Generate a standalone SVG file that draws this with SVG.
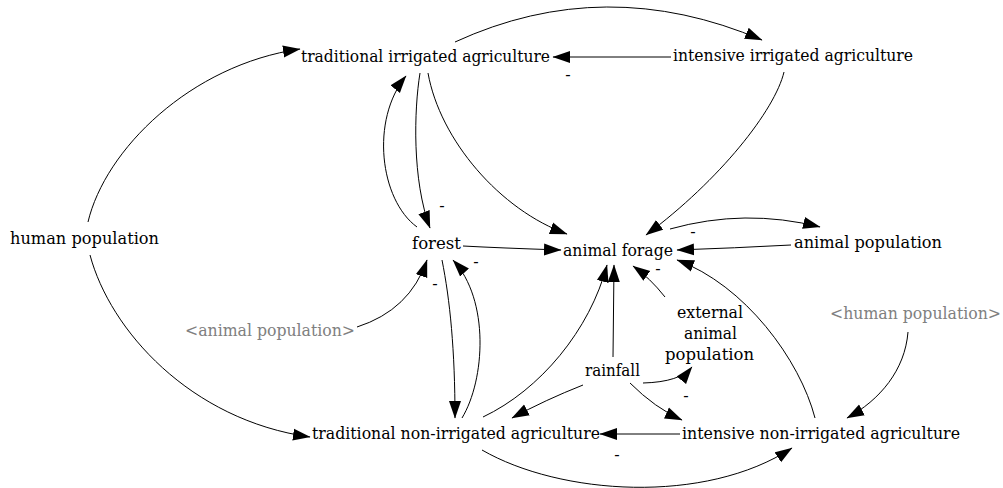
<svg xmlns="http://www.w3.org/2000/svg" width="1003" height="488" viewBox="0 0 1003 488" font-family="DejaVu Serif, serif">
<style>
text{font-size:16px;fill:#000}
.ghost{fill:#808080}
.c path{fill:none;stroke:#000;stroke-width:1;marker-end:url(#ah)}
</style>
<defs>
<marker id="ah" markerUnits="userSpaceOnUse" markerWidth="18" markerHeight="13" viewBox="0 0 18 13" refX="17" refY="6.5" orient="auto">
<path d="M0,0.5 L17.5,6.5 L0,12.5 z" fill="#000"/>
</marker>
</defs>
<rect width="1003" height="488" fill="#fff"/>
<g class="c" id="connectors">
<path d="M88,222 C105,150 190,65 300,49"/>
<path d="M90,255 C110,330 190,420 310,437"/>
<path d="M455,42 Q605,-27 762,40"/>
<path d="M671,57 L553,57"/>
<path d="M784,72 C775,110 720,180 646,235"/>
<path d="M420,73 C414,110 412,180 430,228"/>
<path d="M417,227 C380,200 370,120 406,76"/>
<path d="M428,73 C440,140 500,210 567,234"/>
<path d="M463,246 Q500,248 561,250"/>
<path d="M442,260 C450,300 455,350 455,418"/>
<path d="M462,418 C485,380 490,300 453,260"/>
<path d="M357,327 Q410,310 427,260"/>
<path d="M483,417 C540,390 590,330 607,265"/>
<path d="M613,357 L614,265"/>
<path d="M665,297 Q650,278 633,266"/>
<path d="M791,245 Q735,248 677,250"/>
<path d="M670,229 Q745,208 820,227"/>
<path d="M815,418 C800,360 745,285 677,260"/>
<path d="M908,332 C905,370 880,400 847,418"/>
<path d="M643,383 Q680,382 692,367"/>
<path d="M630,383 Q655,408 682,420"/>
<path d="M583,385 Q545,400 512,418"/>
<path d="M680,434 L600,434"/>
<path d="M482,450 C560,495 705,505 792,448"/>
</g>
<g id="polarities">
<text x="568" y="80" text-anchor="middle">-</text>
<text x="442" y="211" text-anchor="middle">-</text>
<text x="476" y="267" text-anchor="middle">-</text>
<text x="435" y="289" text-anchor="middle">-</text>
<text x="693" y="237" text-anchor="middle">-</text>
<text x="658" y="274" text-anchor="middle">-</text>
<text x="686" y="401" text-anchor="middle">-</text>
<text x="617" y="460" text-anchor="middle">-</text>
</g>
<g id="trad_irrigated"><text x="301" y="62" textLength="249" lengthAdjust="spacingAndGlyphs">traditional irrigated agriculture</text></g>
<g id="int_irrigated"><text x="673" y="61" textLength="240" lengthAdjust="spacingAndGlyphs">intensive irrigated agriculture</text></g>
<g id="human_population"><text x="10" y="244" textLength="149" lengthAdjust="spacingAndGlyphs">human population</text></g>
<g id="animal_population_ghost"><text class="ghost" x="185" y="336" textLength="170" lengthAdjust="spacingAndGlyphs">&lt;animal population&gt;</text></g>
<g id="forest"><text x="412" y="249" textLength="49" lengthAdjust="spacingAndGlyphs">forest</text></g>
<g id="animal_forage"><text x="563" y="256" textLength="110" lengthAdjust="spacingAndGlyphs">animal forage</text></g>
<g id="animal_population"><text x="794" y="248" textLength="148" lengthAdjust="spacingAndGlyphs">animal population</text></g>
<g id="external_animal_population">
<text x="677" y="318" textLength="66" lengthAdjust="spacingAndGlyphs">external</text>
<text x="684" y="339" textLength="53" lengthAdjust="spacingAndGlyphs">animal</text>
<text x="665" y="360" textLength="89" lengthAdjust="spacingAndGlyphs">population</text>
</g>
<g id="human_population_ghost"><text class="ghost" x="830" y="319" textLength="171" lengthAdjust="spacingAndGlyphs">&lt;human population&gt;</text></g>
<g id="rainfall"><text x="585" y="376" textLength="55" lengthAdjust="spacingAndGlyphs">rainfall</text></g>
<g id="trad_non_irrigated"><text x="312" y="439" textLength="288" lengthAdjust="spacingAndGlyphs">traditional non-irrigated agriculture</text></g>
<g id="int_non_irrigated"><text x="682" y="439" textLength="278" lengthAdjust="spacingAndGlyphs">intensive non-irrigated agriculture</text></g>
</svg>
